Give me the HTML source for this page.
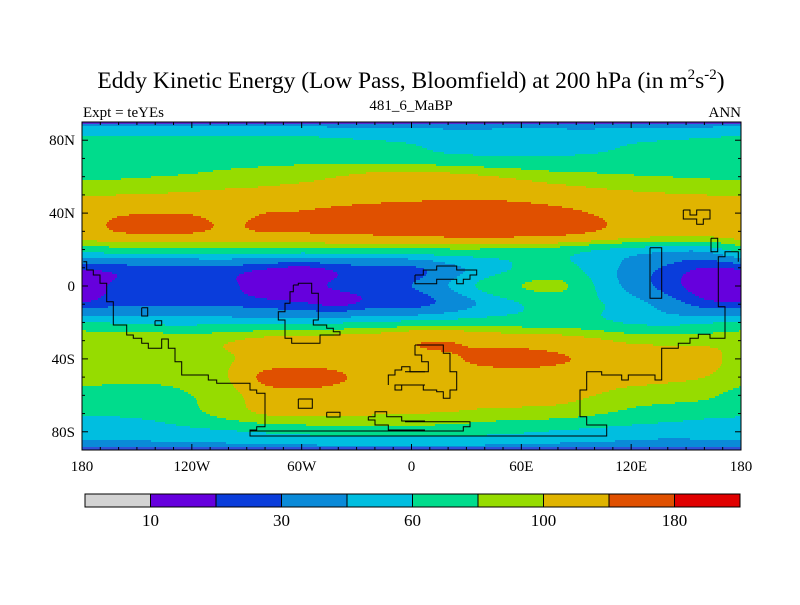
<!DOCTYPE html>
<html><head><meta charset="utf-8"><style>
body{margin:0;background:#fff;width:800px;height:600px;overflow:hidden}
svg text{font-family:"Liberation Serif",serif;fill:#000}
</style></head><body>
<svg id="chart" width="800" height="600" xmlns="http://www.w3.org/2000/svg">
<text x="411" y="88" font-size="23.5" text-anchor="middle">Eddy Kinetic Energy (Low Pass, Bloomfield) at 200 hPa (in m<tspan font-size="15" dy="-9">2</tspan><tspan dy="9">s</tspan><tspan font-size="15" dy="-9">-2</tspan><tspan dy="9">)</tspan></text>
<text x="83" y="117" font-size="15">Expt = teYEs</text>
<text x="411" y="110" font-size="15" text-anchor="middle">481_6_MaBP</text>
<text x="741" y="117" font-size="15" text-anchor="end">ANN</text>
<g id="fill"></g>
<rect x="82" y="122" width="659" height="2" fill="#5a2ad0"/>
<rect x="82" y="447" width="659" height="3" fill="#3050d8"/>
<g id="coast" fill="none" stroke="#000" stroke-width="1"></g>
<rect x="82" y="122" width="659" height="328" fill="none" stroke="#000" stroke-width="1"/>
<g id="ticks" stroke="#000" stroke-width="1"></g>
<g id="labels"></g>
<g id="cbar"></g>
</svg>
<script>
const lons=[-180,-160,-140,-120,-100,-80,-60,-40,-20,0,20,40,60,80,100,120,140,160,180];
const lats=[90,80,70,60,50,40,30,20,10,0,-10,-20,-30,-40,-50,-60,-70,-80,-90];
const r90=[40,40,40,40,40,40,40,40,40,40,40,40,40,40,40,40,40,40,40];
const r80=[65,65,65,65,65,65,65,62,60,58,55,55,55,55,55,58,60,62,65];
const r70=[72,72,75,75,75,75,75,72,70,68,65,63,62,62,63,65,68,70,72];
const r60=[78,78,80,82,85,88,92,100,108,110,108,102,95,88,85,82,80,78,78];
const r50=[98,100,102,105,108,112,118,122,125,128,130,130,125,118,110,105,102,100,98];
const r40=[120,136,138,138,128,140,142,148,155,160,165,165,160,150,138,125,120,120,120];
const r30=[120,142,144,144,132,142,143,148,152,158,162,165,162,155,140,122,115,115,120];
const r20=[68,72,72,72,72,72,72,72,72,75,78,78,75,72,62,55,50,50,68];
const r10=[22,25,27,28,27,22,18,24,28,28,40,52,62,65,55,40,28,20,22];
const r00=[15,22,25,25,22,15,15,22,25,30,45,65,80,85,60,40,25,15,15];
const rS10=[22,28,28,28,28,25,22,18,25,25,35,48,60,65,62,52,38,25,22];
const rS20=[62,58,55,55,55,55,55,58,62,65,68,70,70,70,65,58,55,58,62];
const rS30=[95,95,95,92,98,108,110,115,120,135,138,125,120,115,105,95,92,92,95];
const rS40=[90,92,92,94,98,112,120,120,122,128,135,148,155,145,130,120,115,110,90];
const rS50=[88,85,85,88,100,150,160,145,125,122,122,122,120,118,115,110,105,100,88];
const rS60=[72,70,72,80,90,118,125,122,120,118,118,118,115,110,100,90,88,85,72];
const rS70=[62,62,65,75,88,102,105,105,102,100,98,92,90,88,82,75,70,65,62];
const rS80=[50,50,52,55,58,62,65,68,68,68,68,65,62,58,55,52,50,50,50];
const rS90=[40,40,40,40,40,40,40,40,40,40,40,40,40,40,40,40,40,40,40];
const grid=[r90,r80,r70,r60,r50,r40,r30,r20,r10,r00,rS10,rS20,rS30,rS40,rS50,rS60,rS70,rS80,rS90];
const levels=[10,20,30,45,60,80,100,140,180];
const colors=["#d3d3d3","#6600dd","#0a3ddb","#0a8ad8","#00bee0","#00dc8c","#96dc00","#e0b400","#e05000","#e00000"];
const cbarLabels=["10","30","60","100","180"];
const cbarLabelIdx=[0,2,4,6,8];
const xTickLabels=["180","120W","60W","0","60E","120E","180"];
const xTickLons=[-180,-120,-60,0,60,120,180];
const yTickLabels=["80N","40N","0","40S","80S"];
const yTickLats=[80,40,0,-40,-80];

const PX=82,PY=122,PW=659,PH=328;
const xOf=lon=>PX+(lon+180)/360*PW;
const yOf=lat=>PY+(90-lat)/180*PH;
const NS="http://www.w3.org/2000/svg";
function cr(p0,p1,p2,p3,t){return 0.5*((2*p1)+(-p0+p2)*t+(2*p0-5*p1+4*p2-p3)*t*t+(-p0+3*p1-3*p2+p3)*t*t*t);}
function g(j,i){j=Math.max(0,Math.min(lats.length-1,j));i=Math.max(0,Math.min(lons.length-1,i));return grid[j][i];}
function val(lon,lat){
  const fi=(lon-lons[0])/(lons[1]-lons[0]);const fj=(lats[0]-lat)/(lats[0]-lats[1]);
  let i=Math.max(0,Math.min(Math.floor(fi),lons.length-2)),j=Math.max(0,Math.min(Math.floor(fj),lats.length-2));
  const a=fi-i,b=fj-j;const rows=[];
  for(let k=-1;k<=2;k++)rows.push(cr(g(j+k,i-1),g(j+k,i),g(j+k,i+1),g(j+k,i+2),a));
  return cr(rows[0],rows[1],rows[2],rows[3],b);
}
function cls(v){let k=0;while(k<levels.length&&v>=levels[k])k++;return k;}
const fill=document.getElementById('fill');
const step=2;
for(let y=PY;y<PY+PH;y+=step){
  const lat=90-(y+step/2-PY)/PH*180;
  let start=PX,cur=-1;
  for(let x=PX;x<=PX+PW;x++){
    const c=x<PX+PW?cls(val(-180+(x+0.5-PX)/PW*360,lat)):-2;
    if(c!==cur){
      if(cur>=0){
        const r=document.createElementNS(NS,'rect');
        
        
        r.setAttribute('x',start);r.setAttribute('y',y);
        r.setAttribute('width',x-start);r.setAttribute('height',step+0.3);
        r.setAttribute('fill',colors[cur]);fill.appendChild(r);
      }
      cur=c;start=x;
    }
  }
}
const z1=p=>p.map(([a,b])=>[80+a/3,115+b/3]);
const z2=p=>p.map(([a,b])=>[405+a/3,115+b/3]);
const shapes=[
 z1([[10,440],[20,440],[20,465],[40,465],[40,480],[60,480],[60,505],[80,505],[80,560],[100,560],[100,630],[140,630],[140,660],[160,660],[160,670],[185,670],[185,685],[205,685],[205,700],[245,700],[245,672],[265,672],[265,700],[285,700],[285,740],[305,740],[305,780],[385,780],[385,795],[410,795],[410,805],[510,805],[510,825],[530,825],[530,835],[555,835],[555,935],[530,935],[530,945],[510,945],[510,963],[1035,963]]).concat(z2([[605,963],[605,930],[545,930],[545,905],[525,905],[525,825],[545,825],[545,770],[590,770],[590,780],[650,780],[650,795],[670,795],[670,780],[750,780],[750,795],[770,795],[770,700],[820,700],[820,685],[855,685],[855,670],[880,670],[880,658],[915,658],[915,670],[960,670],[960,575],[940,575],[940,425],[960,425],[960,410],[1000,410],[1000,440]])),
 z1([[510,948],[1035,948]]).concat(z2([[175,948],[175,935],[195,935],[195,920],[0,920]])),
 z1([[640,510],[655,510],[655,505],[695,505],[695,535],[715,535],[715,615],[700,615],[700,630],[740,630],[740,640],[760,640],[760,650],[780,650],[780,660],[720,660],[720,685],[635,685],[635,670],[615,670],[615,615],[595,615],[595,590],[615,590],[615,565],[630,565],[630,530],[640,530],[640,510]]),
 z2([[30,480],[55,480],[55,465],[95,465],[95,453],[155,453],[155,465],[215,465],[215,480],[195,480],[195,493],[175,493],[175,506],[155,506],[155,493],[95,493],[95,506],[30,506],[30,480]]),
 z2([[30,690],[115,690],[115,715],[135,715],[135,770],[155,770],[155,825],[135,825],[135,850],[115,850],[115,830],[95,830],[95,825],[55,825],[55,810],[-10,810]]),
 z1([[1035,810],[945,810],[945,825],[965,825],[965,810]]),
 z1([[925,810],[925,780],[945,780],[945,765],[965,765],[965,755],[990,755],[990,770],[1035,770]]),
 z2([[0,770],[70,770],[70,740],[50,740],[50,720],[30,720],[30,690]]),
 z2([[835,285],[855,285],[855,300],[875,300],[875,285],[915,285],[915,312],[895,312],[895,328],[875,328],[875,312],[835,312],[835,285]]),
 z2([[735,398],[770,398],[770,550],[735,550],[735,398]]),
 z2([[918,370],[938,370],[938,410],[918,410],[918,370]]),
 z1([[185,578],[203,578],[203,603],[185,603],[185,578]]),
 z1([[225,617],[245,617],[245,631],[225,631],[225,617]]),
 z1([[655,852],[697,852],[697,880],[655,880],[655,852]]),
 z1([[740,892],[780,892],[780,906],[740,906],[740,892]]),
 z1([[865,905],[885,905],[885,890],[920,890],[920,905],[965,905],[965,918],[1035,918]]),
 z1([[865,905],[865,915],[885,915],[885,930],[925,930],[925,945],[1035,945]])
];
const coast=document.getElementById('coast');
shapes.forEach(s=>{const p=document.createElementNS(NS,'polyline');
 
 
 p.setAttribute('points',s.map(q=>q[0].toFixed(1)+','+q[1].toFixed(1)).join(' '));coast.appendChild(p);});
const tk=document.getElementById('ticks');
function line(x1,y1,x2,y2){const l=document.createElementNS(NS,'line');
 
 
 l.setAttribute('x1',x1);l.setAttribute('y1',y1);l.setAttribute('x2',x2);l.setAttribute('y2',y2);tk.appendChild(l);}
for(let lon=-180;lon<=180;lon+=10){const x=xOf(lon),m=lon%60===0?6:3;line(x,PY,x,PY+m);line(x,PY+PH,x,PY+PH-m);}
for(let lat=-90;lat<=90;lat+=10){const y=yOf(lat),m=lat%40===0?6:3;line(PX,y,PX+m,y);line(PX+PW,y,PX+PW-m,y);}
const lb=document.getElementById('labels');
function txt(s,x,y,anchor,name){const t=document.createElementNS(NS,'text');
 
 
 t.setAttribute('x',x);t.setAttribute('y',y);t.setAttribute('text-anchor',anchor);t.setAttribute('font-size','15');t.textContent=s;lb.appendChild(t);}
xTickLabels.forEach((s,i)=>txt(s,xOf(xTickLons[i]),471,'middle','x-tick-label'));
yTickLabels.forEach((s,i)=>txt(s,75,yOf(yTickLats[i])+5,'end','y-tick-label'));
const cb=document.getElementById('cbar');
const cx=85,cw=655/colors.length;
colors.forEach((c,i)=>{const r=document.createElementNS(NS,'rect');
 
 
 r.setAttribute('x',cx+i*cw);r.setAttribute('y',494);r.setAttribute('width',cw);r.setAttribute('height',13);
 r.setAttribute('fill',c);r.setAttribute('stroke','#000');r.setAttribute('stroke-width','1');cb.appendChild(r);});
cbarLabels.forEach((s,i)=>{const t=document.createElementNS(NS,'text');
 
 
 t.setAttribute('x',cx+(cbarLabelIdx[i]+1)*cw);t.setAttribute('y',526);t.setAttribute('text-anchor','middle');t.setAttribute('font-size','17');t.textContent=s;cb.appendChild(t);});
</script>
</body></html>
